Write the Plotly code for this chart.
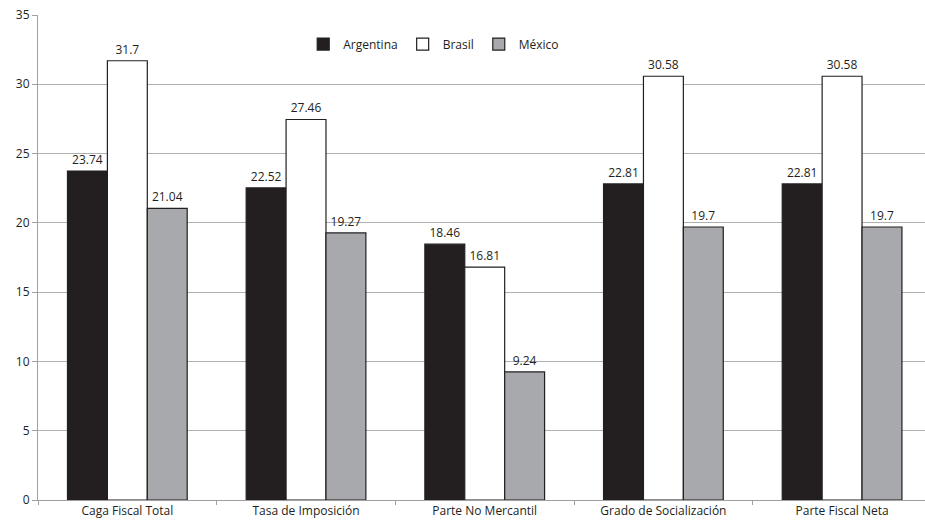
import plotly.graph_objects as go

categories = ["Caga Fiscal Total", "Tasa de Imposición", "Parte No Mercantil",
              "Grado de Socialización", "Parte Fiscal Neta"]
argentina = [23.74, 22.52, 18.46, 22.81, 22.81]
brasil = [31.7, 27.46, 16.81, 30.58, 30.58]
mexico = [21.04, 19.27, 9.24, 19.7, 19.7]
y_ticks = [0, 5, 10, 15, 20, 25, 30, 35]

FONT = "Open Sans"
dark = "#231f20"

fig = go.Figure()
for name, vals, color in [("Argentina", argentina, dark),
                          ("Brasil", brasil, "#ffffff"),
                          ("México", mexico, "#a7a9ac")]:
    fig.add_trace(go.Bar(
        name=name, x=categories, y=vals,
        marker=dict(color=color, line=dict(color=dark, width=1.2)),
        text=[str(v) for v in vals], textposition="outside",
        textfont=dict(family=FONT, size=12, color="#231f20"),
        cliponaxis=False,
    ))

fig.update_layout(
    width=925, height=524,
    margin=dict(l=38, r=0, t=15, b=24),
    barmode="group", bargap=0.33, bargroupgap=0,
    plot_bgcolor="white", paper_bgcolor="white",
    font=dict(family=FONT, size=12, color="#231f20"),
    legend=dict(orientation="h", x=0.299, xanchor="left", y=0.94, yanchor="middle",
                font=dict(family=FONT, size=12), bgcolor="rgba(0,0,0,0)",
                itemwidth=30, tracegroupgap=0),
    xaxis=dict(range=[-0.5, 4.464], showgrid=False, showline=True, linecolor="#a0a0a0",
               ticks="outside", tickson="boundaries", ticklen=4, tickcolor="#a0a0a0",
               tickfont=dict(family=FONT, size=12, color="#231f20")),
    yaxis=dict(range=[0, 35], tickvals=y_ticks, showgrid=True, gridcolor="#b0b0b0",
               gridwidth=1, showline=True, linecolor="#a0a0a0", zeroline=False,
               ticks="outside", ticklen=5, tickcolor="#a0a0a0",
               tickfont=dict(family=FONT, size=12, color="#231f20")),
)

fig.write_html("out.html", config={"displayModeBar": False},
               post_script="document.body.style.margin='0';")
